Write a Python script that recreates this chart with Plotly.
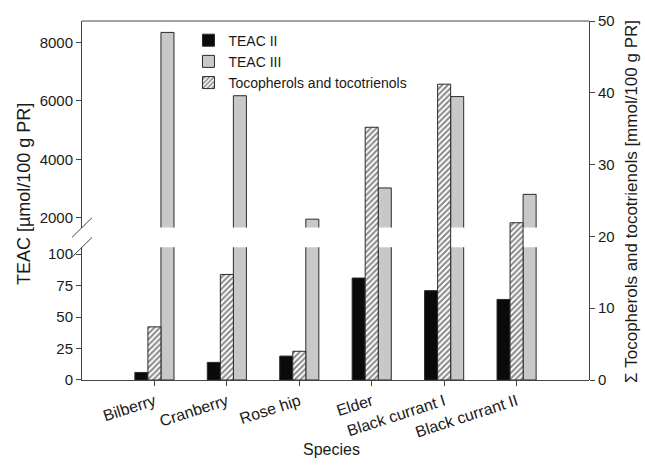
import plotly.graph_objects as go

species = ["Bilberry", "Cranberry", "Rose hip", "Elder", "Black currant I", "Black currant II"]
teac2 = [6, 14, 19, 81, 71, 64]
teac3 = [8350, 6180, 1950, 3020, 6150, 2800]
toco = [7.4, 14.7, 4.0, 35.2, 41.2, 21.9]
lower_ticks = [0, 25, 50, 75, 100]
upper_ticks = [2000, 4000, 6000, 8000]
right_ticks = [0, 10, 20, 30, 40, 50]

xpos = list(range(len(species)))
W = 0.18
LINE = dict(color="#2a2a2a", width=1)
FONT = "Liberation Sans, Arial, sans-serif"
AX = "#444444"

fig = go.Figure()
fig.add_trace(go.Bar(x=xpos, y=teac2, name="TEAC II", width=W, offset=-1.5 * W,
                     marker=dict(color="#0a0a0a", line=LINE), xaxis="x", yaxis="y"))
fig.add_trace(go.Bar(x=xpos, y=teac3, name="TEAC III", width=W, offset=0.5 * W,
                     marker=dict(color="#c8c8c8", line=LINE), xaxis="x", yaxis="y"))
fig.add_trace(go.Bar(x=xpos, y=teac3, name="TEAC III", width=W, offset=0.5 * W, showlegend=False,
                     marker=dict(color="#c8c8c8", line=LINE), xaxis="x", yaxis="y2"))
fig.add_trace(go.Bar(x=xpos, y=toco, name="Tocopherols and tocotrienols", width=W, offset=-0.5 * W,
                     marker=dict(color="white", line=LINE,
                                 pattern=dict(shape="/", fgcolor="#111111", bgcolor="white",
                                              size=4, solidity=0.5)),
                     xaxis="x", yaxis="y3"))

lower_dom = [0, 0.3699]
upper_dom = [0.4247, 1]
TICKF = dict(size=15)

fig.update_layout(
    width=645, height=465,
    margin=dict(l=82, r=56, t=15, b=85),
    paper_bgcolor="white", plot_bgcolor="rgba(0,0,0,0)",
    barmode="overlay",
    font=dict(family=FONT, size=15, color="#1a1a1a"),
    xaxis=dict(range=[-1, 6], tickvals=xpos, ticktext=species, tickangle=-18,
               showline=True, linecolor=AX, linewidth=1, ticks="outside", ticklen=5,
               tickcolor=AX, showgrid=False, zeroline=False, anchor="y",
               tickfont=dict(size=16)),
    yaxis=dict(domain=lower_dom, range=[0, 105.5], tickvals=lower_ticks, tickfont=TICKF,
               showline=True, linecolor=AX, ticks="outside", ticklen=5, tickcolor=AX,
               showgrid=False, zeroline=False, anchor="x"),
    yaxis2=dict(domain=upper_dom, range=[1663, 8741], tickvals=upper_ticks, tickfont=TICKF,
                showline=True, linecolor=AX, ticks="outside", ticklen=5, tickcolor=AX,
                showgrid=False, zeroline=False, anchor="x"),
    yaxis3=dict(domain=[0, 1], range=[0, 50], tickvals=right_ticks, side="right", tickfont=TICKF,
                showline=True, linecolor=AX, ticks="outside", ticklen=5, tickcolor=AX,
                showgrid=False, zeroline=False, anchor="free", position=1),
    legend=dict(x=0.21, y=0.99, xanchor="left", yanchor="top", bgcolor="rgba(0,0,0,0)",
                font=dict(size=14), traceorder="normal", itemwidth=30),
    showlegend=True,
)

# top frame line
fig.add_shape(type="line", xref="paper", yref="paper", x0=0, x1=1, y0=1, y1=1,
              line=dict(color=AX, width=1))

def py(pix):
    return (380 - pix) / 365

def px(pix):
    return (pix - 82) / 507

# axis break marks
for y0, y1 in [(235, 215), (255, 235)]:
    fig.add_shape(type="line", xref="paper", yref="paper", x0=px(72), x1=px(92),
                  y0=py(y0), y1=py(y1), line=dict(color=AX, width=1))

fig.add_annotation(text="TEAC [µmol/100 g PR]", xref="paper", yref="paper",
                   x=px(24), y=py(191), xanchor="center", yanchor="middle",
                   textangle=-90, showarrow=False, font=dict(size=18))
fig.add_annotation(text="Σ Tocopherols and tocotrienols [mmol/100 g PR]", xref="paper", yref="paper",
                   x=px(632), y=py(199), xanchor="center", yanchor="middle",
                   textangle=-90, showarrow=False, font=dict(size=17))
fig.add_annotation(text="Species", xref="paper", yref="paper",
                   x=px(331), y=py(451), xanchor="center", yanchor="middle",
                   showarrow=False, font=dict(size=16))

fig.write_html("out.html", config={"displayModeBar": False},
               post_script="document.body.style.margin='0';")
